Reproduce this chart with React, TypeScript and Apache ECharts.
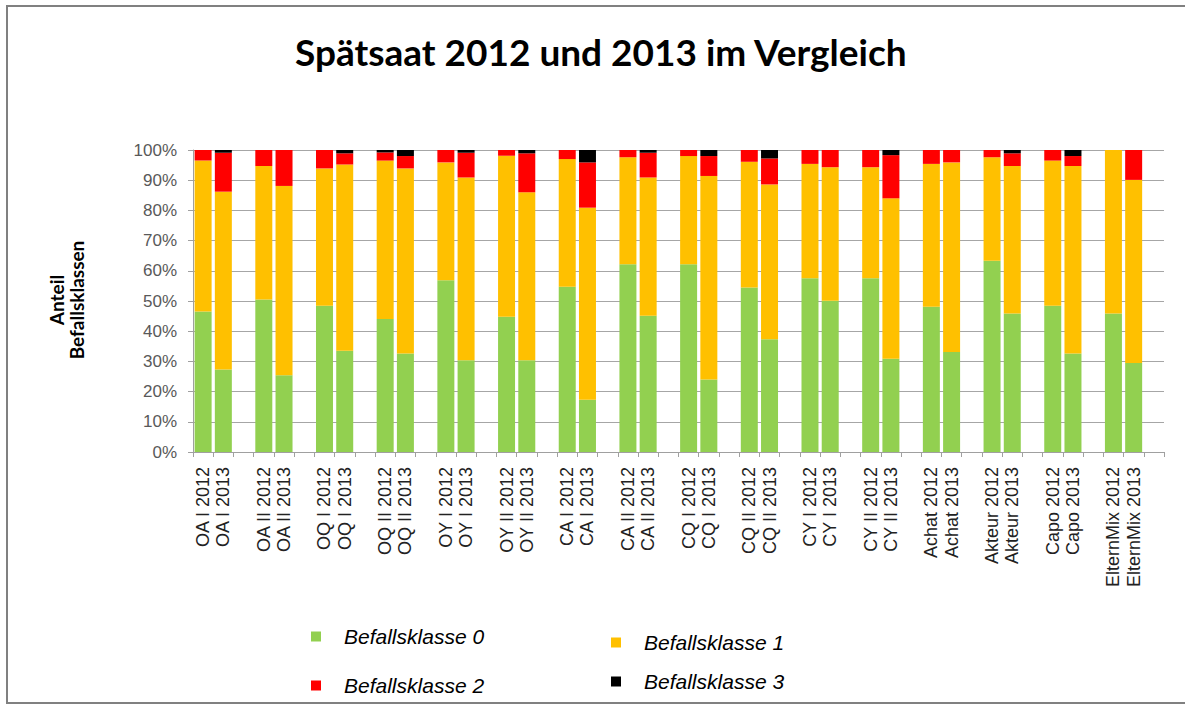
import React, { useEffect, useRef } from "react";
import * as echarts from "echarts";

const barLabels = [
  "OA I 2012", "OA I 2013", "OA II 2012", "OA II 2013",
  "OQ I 2012", "OQ I 2013", "OQ II 2012", "OQ II 2013",
  "OY I 2012", "OY I 2013", "OY II 2012", "OY II 2013",
  "CA I 2012", "CA I 2013", "CA II 2012", "CA II 2013",
  "CQ I 2012", "CQ I 2013", "CQ II 2012", "CQ II 2013",
  "CY I 2012", "CY I 2013", "CY II 2012", "CY II 2013",
  "Achat 2012", "Achat 2013", "Akteur 2012", "Akteur 2013",
  "Capo 2012", "Capo 2013", "ElternMix 2012", "ElternMix 2013",
];

const klasse0 = [46.5, 27.3, 50.5, 25.4, 48.4, 33.5, 44, 32.6, 56.9, 30.4, 44.8, 30.4, 54.7, 17.3, 62.2, 45.1, 62.2, 24, 54.5, 37.3, 57.5, 50.1, 57.5, 30.9, 48.1, 33.1, 63.3, 45.9, 48.4, 32.6, 45.9, 29.5];
const klasse1 = [50, 58.9, 44.2, 62.7, 45.5, 61.7, 52.5, 61.3, 39, 60.5, 53.3, 55.6, 42.3, 63.6, 35.4, 45.8, 35.8, 67.4, 41.6, 51.3, 37.9, 44.2, 36.8, 53.1, 47.3, 62.8, 34.3, 48.8, 48.1, 62.1, 54.1, 60.6];
const klasse2 = [3.5, 12.9, 5.3, 11.9, 6.1, 3.7, 2.7, 4.1, 4.1, 8.2, 1.9, 12.9, 3, 15, 2.4, 8.2, 2, 6.6, 3.9, 8.6, 4.6, 5.7, 5.7, 14.3, 4.6, 4.1, 2.4, 4.2, 3.5, 3.3, 0, 9.9];
const klasse3 = [0, 0.9, 0, 0, 0, 1.1, 0.8, 2, 0, 0.9, 0, 1.1, 0, 4.1, 0, 0.9, 0, 2, 0, 2.8, 0, 0, 0, 1.7, 0, 0, 0, 1.1, 0, 2, 0, 0];

const seriesNames = ["Befallsklasse 0", "Befallsklasse 1", "Befallsklasse 2", "Befallsklasse 3"];
const seriesColors = ["#92D050", "#FFC000", "#FF0000", "#000000"];

// every pair of bars is followed by an empty spacer slot
function withSpacers<T>(arr: T[], spacer: T): T[] {
  const out: T[] = [];
  arr.forEach((v, i) => {
    out.push(v);
    if (i % 2 === 1) out.push(spacer);
  });
  return out;
}

export default function App() {
  const ref = useRef<HTMLDivElement>(null);
  useEffect(() => {
    if (!ref.current) return;
    const chart = echarts.init(ref.current, null, { renderer: "svg" });
    const categories = withSpacers(barLabels, "");
    const all = [klasse0, klasse1, klasse2, klasse3];
    const legendText = { fontFamily: "Liberation Sans", fontStyle: "italic", fontSize: 21, color: "#000", padding: [0, 0, 0, 18] };
    chart.setOption({
      animation: false,
      backgroundColor: "#ffffff",
      title: {
        text: "Spätsaat 2012 und 2013 im Vergleich",
        left: 290,
        top: 28,
        textStyle: { fontFamily: "Lato", fontWeight: "bold", fontSize: 37, color: "#000" },
      },
      grid: { left: 193, right: 21, top: 150, bottom: 254, containLabel: false },
      legend: [
        {
          data: [seriesNames[0], seriesNames[2]],
          orient: "vertical",
          left: 306,
          top: 621,
          itemGap: 28,
          itemWidth: 10,
          itemHeight: 10,
          icon: "rect",
          textStyle: legendText,
        },
        {
          data: [seriesNames[1], seriesNames[3]],
          orient: "vertical",
          left: 606,
          top: 627,
          itemGap: 18,
          itemWidth: 10,
          itemHeight: 10,
          icon: "rect",
          textStyle: legendText,
        },
      ],
      xAxis: {
        type: "category",
        data: categories,
        axisLine: { lineStyle: { color: "#a0a0a0" } },
        axisTick: { show: true, alignWithLabel: false, interval: 0, length: 5, lineStyle: { color: "#a0a0a0" } },
        axisLabel: {
          interval: 0,
          rotate: 90,
          margin: 15,
          fontFamily: "Liberation Sans",
          fontSize: 18,
          color: "#222",
        },
      },
      yAxis: {
        type: "value",
        min: 0,
        max: 100,
        interval: 10,
        axisLine: { show: true, lineStyle: { color: "#a0a0a0" } },
        axisTick: { show: true, length: 5, lineStyle: { color: "#a0a0a0" } },
        splitLine: { lineStyle: { color: "#a6a6a6" } },
        axisLabel: {
          formatter: "{value}%",
          margin: 16,
          fontFamily: "Liberation Sans",
          fontSize: 17,
          color: "#595959",
        },
      },
      graphic: [
        {
          type: "rect",
          shape: { x: 7, y: 6, width: 1190, height: 697 },
          style: { fill: "none", stroke: "#808080", lineWidth: 2 },
          silent: true,
        },
        {
          type: "text",
          x: 66,
          y: 300,
          rotation: Math.PI / 2,
          style: {
            text: "Anteil\nBefallsklassen",
            fontFamily: "Lato",
            fontWeight: "bold",
            fontSize: 19,
            lineHeight: 20,
            fill: "#000",
            align: "center",
            verticalAlign: "middle",
          },
        },
      ],
      series: all.map((vals, i) => ({
        name: seriesNames[i],
        type: "bar",
        stack: "total",
        barCategoryGap: "16%",
        itemStyle: { color: seriesColors[i] },
        data: withSpacers<number | null>(vals, null),
      })),
    });
    return () => chart.dispose();
  }, []);
  return <div ref={ref} style={{ position: "absolute", left: 0, top: 0, width: 1185, height: 706 }} />;
}
